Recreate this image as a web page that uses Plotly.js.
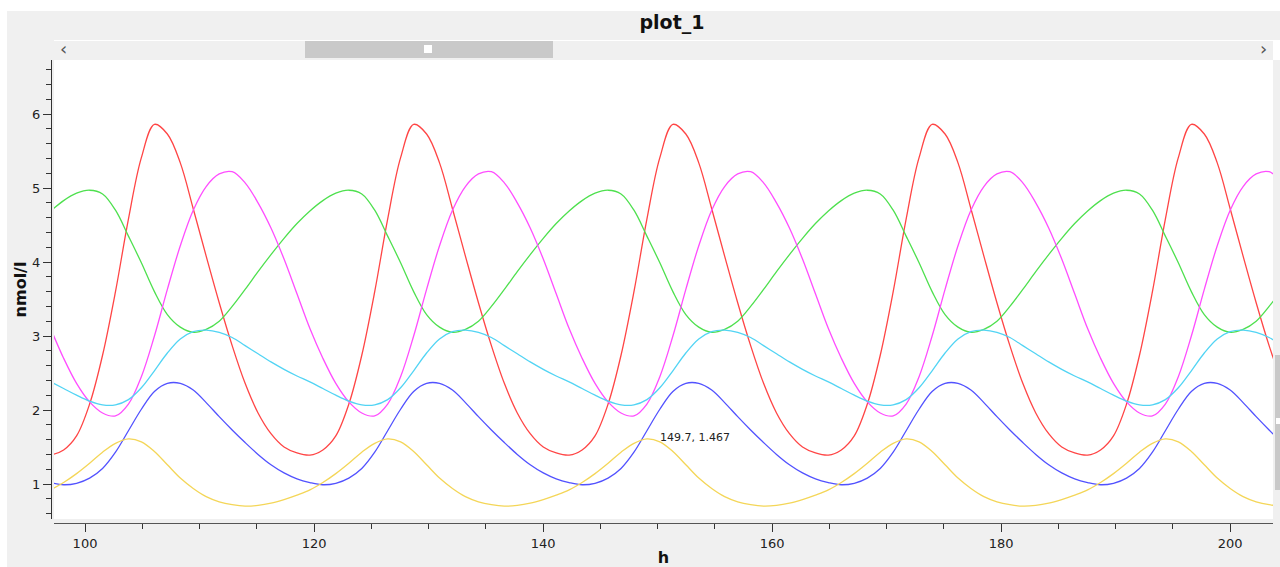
<!DOCTYPE html>
<html>
<head>
<meta charset="utf-8">
<script src="https://cdn.plot.ly/plotly-3.0.1.min.js"></script>
<style>
  html, body { margin: 0; padding: 0; background: #ffffff; }
  #chart { width: 1280px; height: 567px; }
</style>
</head>
<body>
<div id="chart"></div>
<script>
// time points (h)
const hours = [
  97.00, 98.13, 99.26, 100.40, 101.53, 102.66, 103.79, 104.92, 106.06, 107.19,
  108.32, 109.45, 110.58, 111.72, 112.85, 113.98, 115.11, 116.24, 117.38, 118.51,
  119.64, 120.77, 121.90, 123.04, 124.17, 125.30, 126.43, 127.56, 128.70, 129.83,
  130.96, 132.09, 133.22, 134.36, 135.49, 136.62, 137.75, 138.88, 140.02, 141.15,
  142.28, 143.41, 144.54, 145.68, 146.81, 147.94, 149.07, 150.20, 151.34, 152.47,
  153.60, 154.73, 155.86, 157.00, 158.13, 159.26, 160.39, 161.52, 162.66, 163.79,
  164.92, 166.05, 167.18, 168.32, 169.45, 170.58, 171.71, 172.84, 173.98, 175.11,
  176.24, 177.37, 178.50, 179.64, 180.77, 181.90, 183.03, 184.16, 185.30, 186.43,
  187.56, 188.69, 189.82, 190.96, 192.09, 193.22, 194.35, 195.48, 196.62, 197.75,
  198.88, 200.01, 201.14, 202.28, 203.41, 204.54
];

// series values (nmol/l)
const redValues = [
  1.39,1.46,1.65,2.08,2.74,3.60,4.58,5.41,5.86,5.73,5.34,4.72,4.08,3.45,2.87,2.36,1.96,1.68,1.50,1.42,
  1.39,1.46,1.65,2.08,2.74,3.60,4.58,5.41,5.86,5.73,5.34,4.72,4.08,3.45,2.87,2.36,1.96,1.68,1.50,1.42,
  1.39,1.46,1.65,2.08,2.74,3.60,4.58,5.41,5.86,5.73,5.34,4.72,4.08,3.45,2.87,2.36,1.96,1.68,1.50,1.42,
  1.39,1.46,1.65,2.08,2.74,3.60,4.58,5.41,5.86,5.73,5.34,4.72,4.08,3.45,2.87,2.36,1.96,1.68,1.50,1.42,
  1.39,1.46,1.65,2.08,2.74,3.60,4.58,5.41,5.86,5.73,5.34,4.72,4.08,3.45,2.87,2.36
];
const greenValues = [
  4.69,4.83,4.93,4.97,4.92,4.70,4.35,3.99,3.60,3.29,3.12,3.05,3.09,3.20,3.40,3.63,3.87,4.10,4.32,4.52,
  4.69,4.83,4.93,4.97,4.92,4.70,4.35,3.99,3.60,3.29,3.12,3.05,3.09,3.20,3.40,3.63,3.87,4.10,4.32,4.52,
  4.69,4.83,4.93,4.97,4.92,4.70,4.35,3.99,3.60,3.29,3.12,3.05,3.09,3.20,3.40,3.63,3.87,4.10,4.32,4.52,
  4.69,4.83,4.93,4.97,4.92,4.70,4.35,3.99,3.60,3.29,3.12,3.05,3.09,3.20,3.40,3.63,3.87,4.10,4.32,4.52,
  4.69,4.83,4.93,4.97,4.92,4.70,4.35,3.99,3.60,3.29,3.12,3.05,3.09,3.20,3.40,3.63
];
const magentaValues = [
  3.10,2.70,2.36,2.11,1.96,1.92,2.08,2.45,3.00,3.63,4.22,4.70,5.02,5.19,5.22,5.07,4.80,4.46,4.04,3.57,
  3.10,2.70,2.36,2.11,1.96,1.92,2.08,2.45,3.00,3.63,4.22,4.70,5.02,5.19,5.22,5.07,4.80,4.46,4.04,3.57,
  3.10,2.70,2.36,2.11,1.96,1.92,2.08,2.45,3.00,3.63,4.22,4.70,5.02,5.19,5.22,5.07,4.80,4.46,4.04,3.57,
  3.10,2.70,2.36,2.11,1.96,1.92,2.08,2.45,3.00,3.63,4.22,4.70,5.02,5.19,5.22,5.07,4.80,4.46,4.04,3.57,
  3.10,2.70,2.36,2.11,1.96,1.92,2.08,2.45,3.00,3.63,4.22,4.70,5.02,5.19,5.22,5.07
];
const cyanValues = [
  2.38,2.29,2.20,2.12,2.07,2.07,2.14,2.30,2.53,2.77,2.96,3.06,3.08,3.05,2.98,2.87,2.76,2.65,2.55,2.46,
  2.38,2.29,2.20,2.12,2.07,2.07,2.14,2.30,2.53,2.77,2.96,3.06,3.08,3.05,2.98,2.87,2.76,2.65,2.55,2.46,
  2.38,2.29,2.20,2.12,2.07,2.07,2.14,2.30,2.53,2.77,2.96,3.06,3.08,3.05,2.98,2.87,2.76,2.65,2.55,2.46,
  2.38,2.29,2.20,2.12,2.07,2.07,2.14,2.30,2.53,2.77,2.96,3.06,3.08,3.05,2.98,2.87,2.76,2.65,2.55,2.46,
  2.38,2.29,2.20,2.12,2.07,2.07,2.14,2.30,2.53,2.77,2.96,3.06,3.08,3.05,2.98,2.87
];
const blueValues = [
  1.02,0.99,1.01,1.08,1.21,1.43,1.72,2.01,2.25,2.36,2.36,2.27,2.10,1.91,1.73,1.56,1.40,1.26,1.15,1.07,
  1.02,0.99,1.01,1.08,1.21,1.43,1.72,2.01,2.25,2.36,2.36,2.27,2.10,1.91,1.73,1.56,1.40,1.26,1.15,1.07,
  1.02,0.99,1.01,1.08,1.21,1.43,1.72,2.01,2.25,2.36,2.36,2.27,2.10,1.91,1.73,1.56,1.40,1.26,1.15,1.07,
  1.02,0.99,1.01,1.08,1.21,1.43,1.72,2.01,2.25,2.36,2.36,2.27,2.10,1.91,1.73,1.56,1.40,1.26,1.15,1.07,
  1.02,0.99,1.01,1.08,1.21,1.43,1.72,2.01,2.25,2.36,2.36,2.27,2.10,1.91,1.73,1.56
];
const yellowValues = [
  0.92,1.02,1.14,1.28,1.43,1.55,1.61,1.57,1.44,1.26,1.08,0.94,0.83,0.76,0.72,0.70,0.71,0.74,0.79,0.85,
  0.92,1.02,1.14,1.28,1.43,1.55,1.61,1.57,1.44,1.26,1.08,0.94,0.83,0.76,0.72,0.70,0.71,0.74,0.79,0.85,
  0.92,1.02,1.14,1.28,1.43,1.55,1.61,1.57,1.44,1.26,1.08,0.94,0.83,0.76,0.72,0.70,0.71,0.74,0.79,0.85,
  0.92,1.02,1.14,1.28,1.43,1.55,1.61,1.57,1.44,1.26,1.08,0.94,0.83,0.76,0.72,0.70,0.71,0.74,0.79,0.85,
  0.92,1.02,1.14,1.28,1.43,1.55,1.61,1.57,1.44,1.26,1.08,0.94,0.83,0.76,0.72,0.70
];

const titleText = 'plot_1';
const xTitle = 'h';
const yTitle = 'nmol/l';
const cursorLabel = '149.7, 1.467';

const seriesList = [
  { name: 'red', y: redValues, color: '#ff4545' },
  { name: 'green', y: greenValues, color: '#4ee04e' },
  { name: 'magenta', y: magentaValues, color: '#ff4dff' },
  { name: 'cyan', y: cyanValues, color: '#52d4f4' },
  { name: 'blue', y: blueValues, color: '#5252ff' },
  { name: 'yellow', y: yellowValues, color: '#f4d658' }
];

const traces = seriesList.map(s => ({
  type: 'scatter', mode: 'lines', name: s.name,
  x: hours, y: s.y,
  line: { color: s.color, width: 1.3, shape: 'spline', smoothing: 1 },
  hoverinfo: 'x+y'
}));

// pixel -> paper helpers (paper area: x 51..1273, y 60..523)
const L = 51, R = 1273, T = 60, B = 523;
const PX = p => (p - L) / (R - L);
const PY = p => (B - p) / (B - T);

const FONT = 'DejaVu Sans, Verdana, sans-serif';

function rect(x0, y0, x1, y1, color) {
  return { type: 'rect', xref: 'paper', yref: 'paper', layer: 'above',
    x0: PX(x0), x1: PX(x1), y0: PY(y1), y1: PY(y0),
    fillcolor: color, line: { width: 0 } };
}

const layout = {
  width: 1280, height: 567,
  margin: { l: L, r: 1280 - R, t: T, b: 567 - B, pad: 0 },
  paper_bgcolor: '#f0f0f0',
  plot_bgcolor: '#ffffff',
  showlegend: false,
  font: { family: FONT, color: '#222222' },
  title: {
    text: '<b>' + titleText + '</b>',
    font: { family: FONT, size: 19, color: '#111111' },
    xref: 'container', yref: 'container',
    x: 672 / 1280, xanchor: 'center',
    y: 1 - 22 / 567, yanchor: 'middle'
  },
  xaxis: {
    domain: [PX(54), 1],
    range: [97.29, 203.75],
    anchor: 'free', position: 0,
    showline: true, linecolor: '#555555', linewidth: 1,
    showgrid: false, zeroline: false,
    ticks: 'outside', ticklen: 8, tickcolor: '#333333', tickwidth: 1,
    tick0: 0, dtick: 20,
    minor: { ticks: 'outside', ticklen: 5, tickcolor: '#333333', dtick: 5, tick0: 0, showgrid: false },
    tickfont: { family: FONT, size: 13, color: '#222222' },
    title: { text: '<b>' + xTitle + '</b>', font: { family: FONT, size: 16, color: '#111111' }, standoff: 10 },
    fixedrange: true
  },
  yaxis: {
    domain: [PY(519), 1],
    range: [0.527, 6.730],
    anchor: 'free', position: 0,
    showline: true, linecolor: '#333333', linewidth: 1,
    showgrid: false, zeroline: false,
    ticks: 'outside', ticklen: 8, tickcolor: '#333333', tickwidth: 1,
    tick0: 0, dtick: 1,
    minor: { ticks: 'outside', ticklen: 5, tickcolor: '#333333', dtick: 0.2, tick0: 0, showgrid: false },
    tickfont: { family: FONT, size: 13, color: '#222222' },
    title: { text: '<b>' + yTitle + '</b>', font: { family: FONT, size: 16, color: '#111111' }, standoff: 0 },
    fixedrange: true
  },
  shapes: [
    rect(0, 0, 1280, 11, '#ffffff'),
    rect(0, 0, 7, 567, '#ffffff'),
    rect(54, 40, 1273, 41, '#ffffff'),
    rect(1273, 40, 1280, 60, '#ffffff'),
    rect(305, 41, 553, 58, '#c9c9c9'),
    rect(424, 45, 432, 53, '#ffffff'),
    rect(1275, 355, 1280, 490, '#c9c9c9'),
    rect(1276, 418, 1280, 424, '#ffffff')
  ],
  annotations: [
    { xref: 'paper', yref: 'paper', x: PX(63), y: PY(49), text: '\u2039', showarrow: false,
      font: { family: FONT, size: 18, color: '#555555' }, xanchor: 'center', yanchor: 'middle' },
    { xref: 'paper', yref: 'paper', x: PX(1263), y: PY(49), text: '\u203A', showarrow: false,
      font: { family: FONT, size: 18, color: '#555555' }, xanchor: 'center', yanchor: 'middle' },
    { xref: 'paper', yref: 'paper', x: PX(658), y: PY(437), text: cursorLabel, showarrow: false,
      font: { family: FONT, size: 11, color: '#222222' }, xanchor: 'left', yanchor: 'middle' }
  ]
};

Plotly.newPlot('chart', traces, layout, { displayModeBar: false, staticPlot: true });
</script>
</body>
</html>
